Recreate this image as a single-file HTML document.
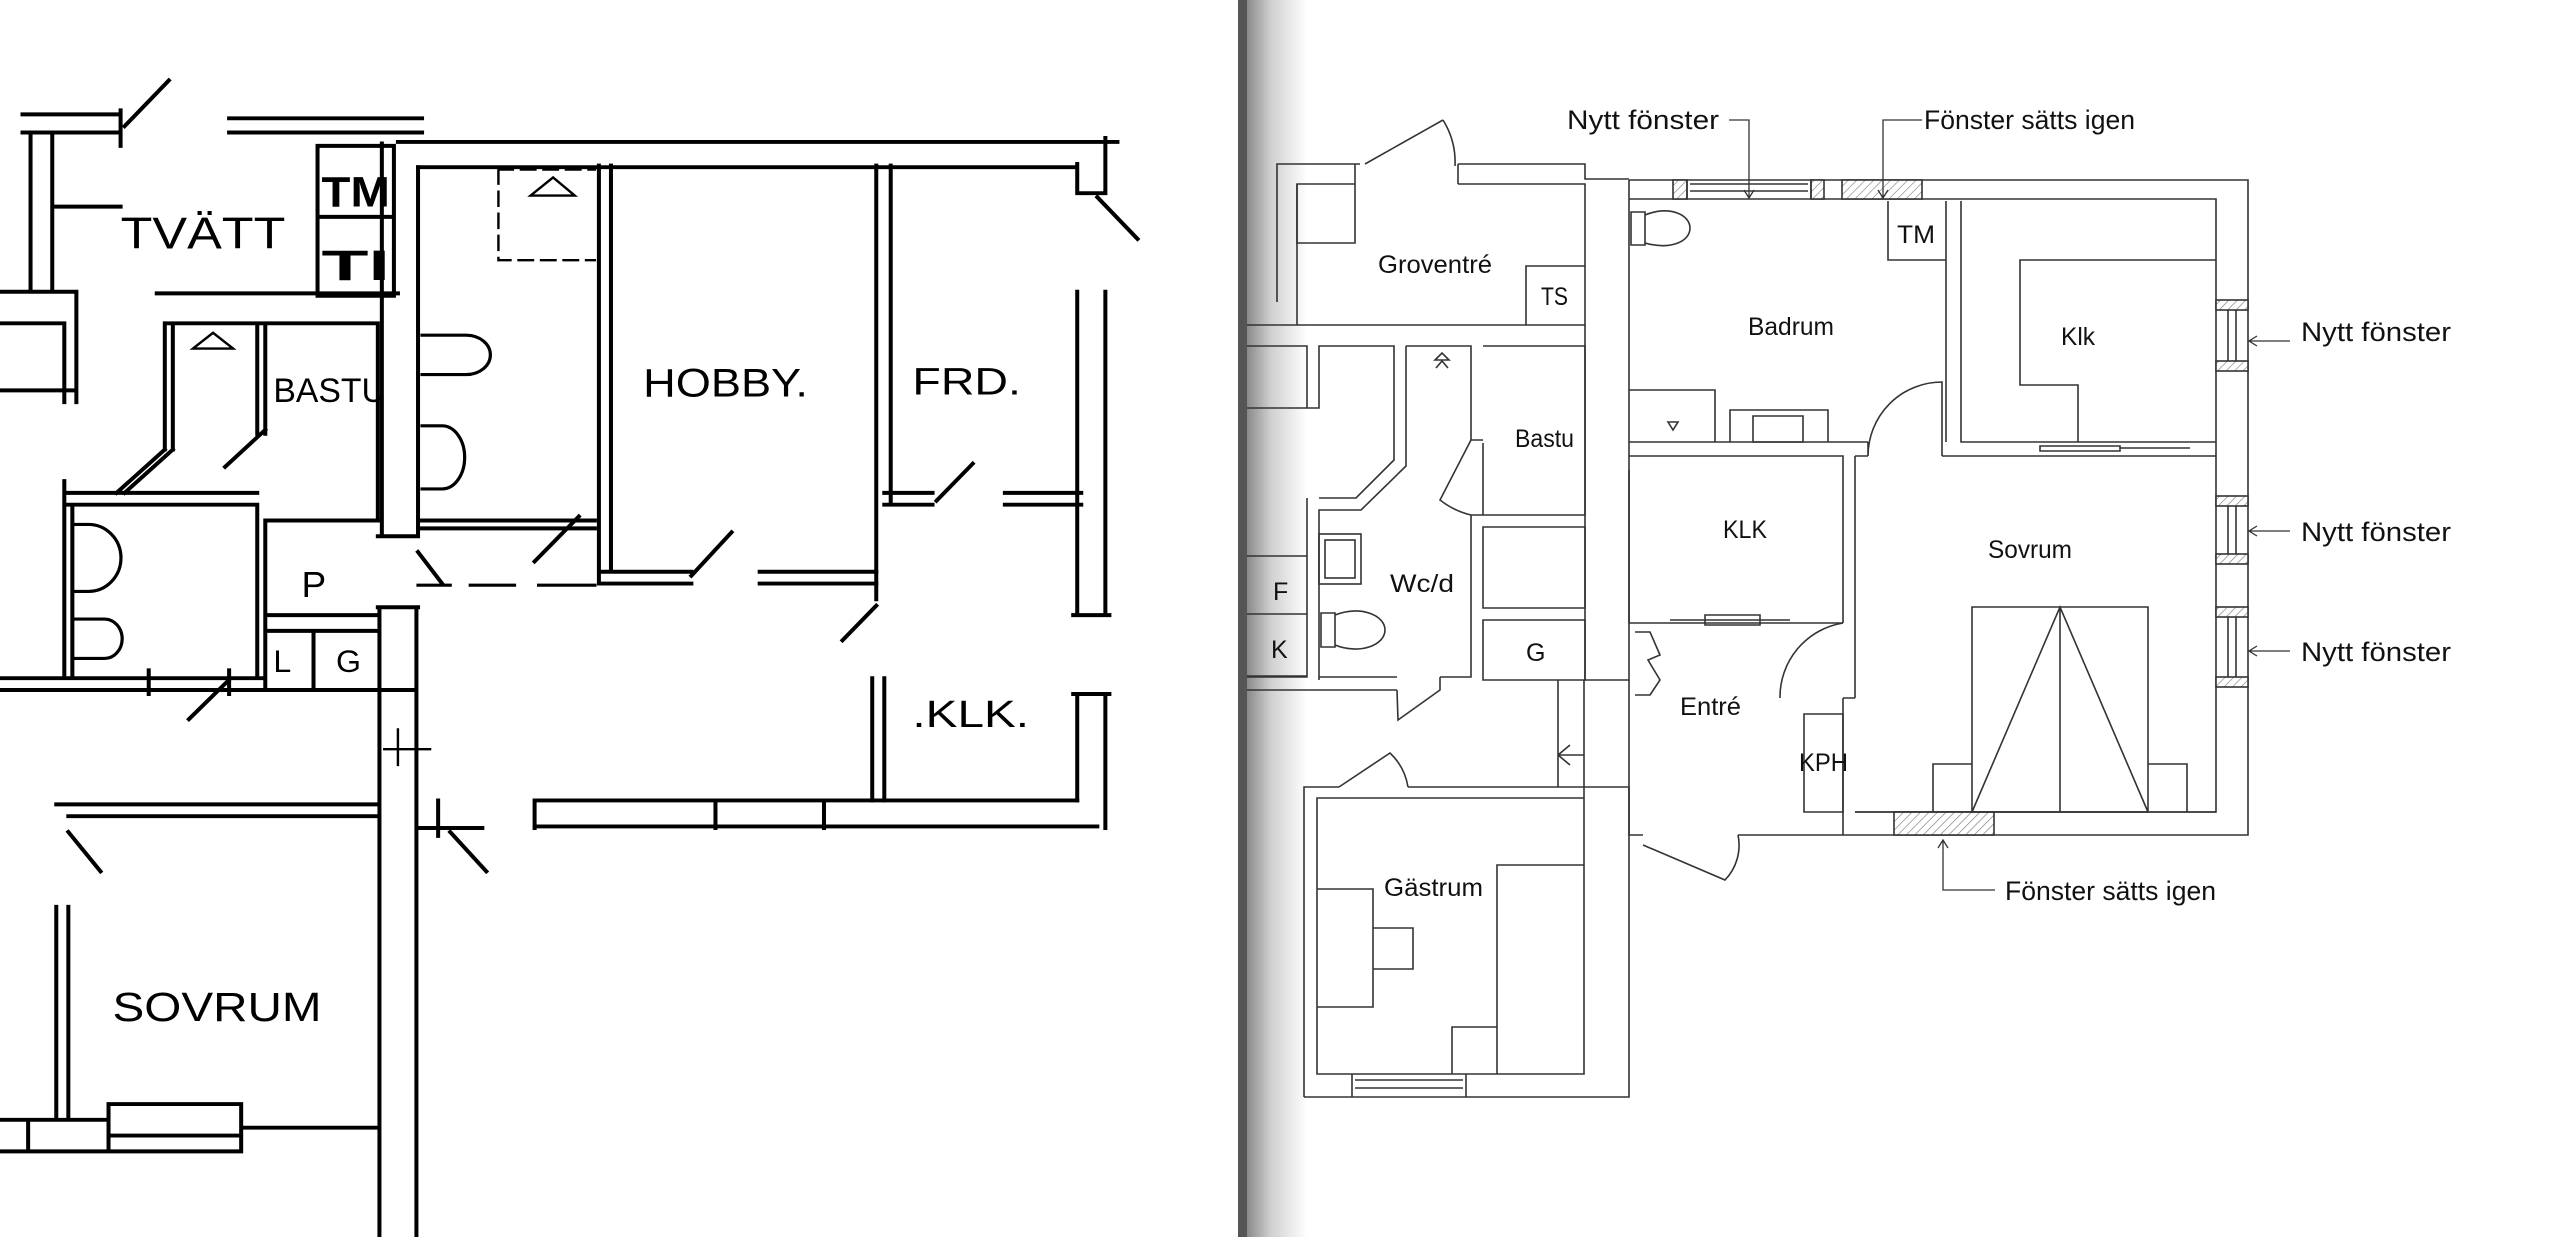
<!DOCTYPE html>
<html><head><meta charset="utf-8"><style>
html,body{margin:0;padding:0;background:#fff;width:2560px;height:1237px;overflow:hidden}
svg{display:block}
text{font-family:"Liberation Sans",sans-serif}
</style></head><body>
<svg width="2560" height="1237" viewBox="0 0 2560 1237" xmlns="http://www.w3.org/2000/svg">
<defs>
<linearGradient id="sh" x1="0" x2="1" y1="0" y2="0">
<stop offset="0" stop-color="#8a8a8a"/><stop offset="0.4" stop-color="#d0d0d0"/><stop offset="1" stop-color="#fff"/>
</linearGradient>
<pattern id="ht" width="6" height="6" patternUnits="userSpaceOnUse" patternTransform="rotate(45)">
<rect width="6" height="6" fill="#fff"/><line x1="0" y1="0" x2="0" y2="6" stroke="#777" stroke-width="1.2"/></pattern>
</defs>
<rect x="0" y="0" width="2560" height="1237" fill="#fff"/>
<rect x="1247" y="0" width="60" height="1237" fill="url(#sh)"/>
<rect x="1238" y="0" width="9" height="1237" fill="#555"/>

<g transform="scale(0.8039,0.7886)" stroke="#000" stroke-width="5" fill="none" stroke-linecap="square">
<path d="M28,145H150M28,168H150M150,140V185M285,150H525M285,168H525M155,160L210,102"/>
<path d="M495,180H1390M520,212H1340M1340,208V245H1375V175M1365,250L1415,303"/>
<path d="M1340,370V780M1375,370V780M1340,880V1015M1375,880V1050M1335,780H1380M1335,880H1380"/>
<path d="M665,1015H1340M665,1048H1365M665,1015V1050M890,1015V1050M1025,1015V1050"/>
<path d="M745,210V740M760,210V725M750,740H860M750,725H860M945,725H1090M945,740H1090M860,730L910,675"/>
<path d="M1090,210V760M1108,210V640M1100,625H1160M1100,640H1160M1165,635L1210,588M1250,625H1345M1250,640H1345"/>
<path d="M1085,860V1015M1100,860V1015M1048,812L1090,768"/>
<path d="M475,182V680M520,212V680M470,680H520M520,660H740M520,670H740M665,712L720,655M520,700L550,740"/>
<path d="M520,742H560M585,742H640M670,742H740" stroke-width="4"/>
<path d="M472,770V1568M518,770V1568M470,770H520M472,875H518"/>
<path d="M70,1020H470M85,1035H470M520,1050H600M85,1055L125,1105M560,1055L605,1105M545,1015V1060"/>
<path d="M70,1150V1420M85,1150V1420M0,1420H135M0,1460H300M135,1400H300M135,1440H300M135,1400V1460M300,1400V1460M300,1430H470M35,1420V1460"/>
<path d="M38,170V365M65,170V365M65,262H150M0,370H95M0,410H80M0,495H95M80,410V510M95,370V510"/>
<path d="M395,185H490V375H395ZM395,275H490"/>
<path d="M195,372H495M205,410H470M205,410V570M215,410V570M205,570L145,625M215,570L155,625M320,410V550M330,410V550M280,592L330,545M470,410V660"/>
<path d="M85,625H320M85,640H320M80,610V860M90,640V860M320,640V860M330,660V870M330,660H470M330,780H470M330,800H470M390,800V870M0,860H330M0,875H470M235,912L285,862M185,850V880M285,850V880"/>
<path d="M525,425H580A30,25 0 0 1 580,475H525M525,540H550A28,40 0 0 1 550,620H525M90,665H110A40,42 0 0 1 110,750H90M90,785H130A22,25 0 0 1 130,835H90" stroke-width="4"/>
<path d="M620,215V330H740M620,215H740" stroke-width="3" stroke-dasharray="18,10"/>
<path d="M660,248H715L688,225Z" stroke-width="3"/>
<path d="M240,442H290L265,422Z" stroke-width="3"/>
<path d="M478,950H535M495,925V970" stroke-width="3"/>
</g>
<g transform="scale(0.8039,0.7886)" fill="#000" stroke="none">
<text x="150" y="315" font-size="56" textLength="205" lengthAdjust="spacingAndGlyphs">TVÄTT</text>
<text x="400" y="262" font-size="54" textLength="85" lengthAdjust="spacingAndGlyphs" font-weight="bold">TM</text>
<text x="400" y="355" font-size="54" textLength="85" lengthAdjust="spacingAndGlyphs" font-weight="bold">TI</text>
<text x="340" y="510" font-size="44" textLength="140" lengthAdjust="spacingAndGlyphs">BASTU</text>
<text x="800" y="503" font-size="50" textLength="205" lengthAdjust="spacingAndGlyphs">HOBBY.</text>
<text x="1135" y="500" font-size="48" textLength="135" lengthAdjust="spacingAndGlyphs">FRD.</text>
<text x="1135" y="922" font-size="48" textLength="145" lengthAdjust="spacingAndGlyphs">.KLK.</text>
<text x="140" y="1295" font-size="52" textLength="260" lengthAdjust="spacingAndGlyphs">SOVRUM</text>
<text x="375" y="757" font-size="46">P</text>
<text x="340" y="852" font-size="40">L</text>
<text x="418" y="852" font-size="40">G</text>
</g>

<g stroke="#333" stroke-width="1.6" fill="none">
<path d="M1629,180H2248V835H1738M1629,199H2216V812H1855M1629,180V199"/>
<rect x="1673" y="180" width="14" height="19" fill="url(#ht)"/>
<rect x="1811" y="180" width="13" height="19" fill="url(#ht)"/>
<path d="M1687,180V199M1811,180V199M1690,184H1808M1690,191H1808"/>
<rect x="1842" y="180" width="80" height="19" fill="url(#ht)"/>
<g>
<rect x="2216" y="300" width="32" height="10" fill="url(#ht)"/><rect x="2216" y="361" width="32" height="10" fill="url(#ht)"/>
<path d="M2228,310V361M2236,310V361"/>
<rect x="2216" y="496" width="32" height="10" fill="url(#ht)"/><rect x="2216" y="554" width="32" height="10" fill="url(#ht)"/>
<path d="M2228,506V554M2236,506V554"/>
<rect x="2216" y="607" width="32" height="10" fill="url(#ht)"/><rect x="2216" y="677" width="32" height="10" fill="url(#ht)"/>
<path d="M2228,617V677M2236,617V677"/>
</g>
<rect x="1894" y="812" width="100" height="23" fill="url(#ht)"/>
<path d="M1629,179H1585V164H1458M1360,164H1277V302M1297,325V184H1355M1458,184H1585V325H1297M1355,184V164M1458,184V164"/>
<path d="M1297,184V243H1355V184M1526,325V266H1585"/>
<path d="M1365,164L1443,120M1443,120A80,80 0 0 1 1455,166"/>
<path d="M1629,199V680H1585V346M1585,325V346"/>
<path d="M1247,325H1297M1247,346H1307V408H1319V346H1394V460L1356,498H1319M1247,408H1307"/>
<path d="M1406,346H1471V440M1406,346V466L1361,510H1319V677H1397M1307,498V677H1247M1319,677V680"/>
<path d="M1247,556H1307M1247,614H1307M1247,676H1307M1247,690H1397"/>
<path d="M1483,346H1585V515H1483V443M1471,440H1483M1471,515H1483M1471,515V677H1440M1483,527H1585V608H1483ZM1483,620H1585V680H1483Z"/>
<path d="M1440,677V690L1398,720L1397,690M1471,440L1440,500A80,80 0 0 0 1471,515"/>
<rect x="1319" y="534" width="42" height="50"/><rect x="1325" y="540" width="30" height="38"/>
<path d="M1321,613H1335V647H1321ZM1335,615C1360,605 1385,615 1385,630C1385,645 1360,655 1335,645"/>
<path d="M1435,360L1442,353L1449,360ZM1436,368L1442,361L1448,368"/>
<path d="M1558,680V787M1584,680V787M1558,755H1584M1558,755L1570,745M1558,755L1570,765"/>
<path d="M1629,787H1584V798H1317V1074H1584V798M1304,1097V787H1339M1408,787H1584M1629,787V1097H1304"/>
<path d="M1339,787L1390,753A60,60 0 0 1 1408,787"/>
<path d="M1497,1074V865H1584M1317,889H1373V1007H1317M1373,928H1413V969H1373M1452,1074V1027H1497"/>
<path d="M1352,1074V1097M1466,1074V1097M1355,1080H1463M1355,1088H1463"/>
<path d="M1888,201V260H1946V201M1946,201V442M1961,201V442H2216M1629,442H1868M1629,456H1843V623M1855,456H1868M1942,456H2216"/>
<path d="M1868,456V442M1942,442V456M1868,456A74,74 0 0 1 1942,382V442"/>
<path d="M1629,390H1715V442M1730,442V410H1828V442M1753,416H1803V442H1753Z"/>
<path d="M1668,422L1673,430L1678,422Z"/>
<path d="M1631,212H1645V245H1631ZM1645,215C1670,205 1690,215 1690,228C1690,242 1670,250 1645,243"/>
<path d="M2216,260H2020V385H2078V442"/>
<path d="M2040,446H2120V451H2040ZM2120,448H2190"/>
<path d="M1629,623H1843M1629,623V470M1855,456V698M1843,698V835M1855,698H1843"/>
<path d="M1635,632H1650L1660,655L1648,660L1660,680L1650,695H1635"/>
<path d="M1670,620H1790M1705,615H1760V625H1705Z"/>
<path d="M1843,623A75,75 0 0 0 1780,698"/>
<path d="M1629,680V835H1643M1643,845L1725,880A50,50 0 0 0 1738,835"/>
<path d="M1804,714H1843V812H1804Z"/>
<path d="M1972,607H2148V812H1972ZM2060,607V812M1972,812L2060,607L2148,812M1933,812V764H1972M2148,764H2187V812"/>
<path d="M1855,812H2216"/>
</g>
<g stroke="#333" stroke-width="1.3" fill="none">
<path d="M1729,120H1749V197M1744,190L1749,198L1754,190"/>
<path d="M1922,120H1883V197M1878,190L1883,198L1888,190"/>
<path d="M2290,341H2250M2257,336L2249,341L2257,346"/>
<path d="M2290,531H2250M2257,526L2249,531L2257,536"/>
<path d="M2290,651H2250M2257,646L2249,651L2257,656"/>
<path d="M1943,841V890H1995M1938,848L1943,840L1948,848"/>
</g>
<g fill="#111" font-size="27">
<text x="1567" y="129" textLength="152" lengthAdjust="spacingAndGlyphs">Nytt fönster</text>
<text x="1924" y="129" textLength="211" lengthAdjust="spacingAndGlyphs">Fönster sätts igen</text>
<text x="2301" y="341" textLength="150" lengthAdjust="spacingAndGlyphs">Nytt fönster</text>
<text x="2301" y="541" textLength="150" lengthAdjust="spacingAndGlyphs">Nytt fönster</text>
<text x="2301" y="661" textLength="150" lengthAdjust="spacingAndGlyphs">Nytt fönster</text>
<text x="2005" y="900" textLength="211" lengthAdjust="spacingAndGlyphs">Fönster sätts igen</text>
</g>
<g fill="#111" font-size="25">
<text x="1378" y="273" textLength="114" lengthAdjust="spacingAndGlyphs">Groventré</text>
<text x="1541" y="305" textLength="27" lengthAdjust="spacingAndGlyphs">TS</text>
<text x="1897" y="243" textLength="38" lengthAdjust="spacingAndGlyphs">TM</text>
<text x="1748" y="335" textLength="86" lengthAdjust="spacingAndGlyphs">Badrum</text>
<text x="2061" y="345" textLength="34" lengthAdjust="spacingAndGlyphs">Klk</text>
<text x="1515" y="447" textLength="59" lengthAdjust="spacingAndGlyphs">Bastu</text>
<text x="1723" y="538" textLength="44" lengthAdjust="spacingAndGlyphs">KLK</text>
<text x="1988" y="558" textLength="84" lengthAdjust="spacingAndGlyphs">Sovrum</text>
<text x="1390" y="592" textLength="64" lengthAdjust="spacingAndGlyphs">Wc/d</text>
<text x="1273" y="600">F</text>
<text x="1271" y="658">K</text>
<text x="1526" y="661">G</text>
<text x="1680" y="715" textLength="61" lengthAdjust="spacingAndGlyphs">Entré</text>
<text x="1799" y="771" textLength="49" lengthAdjust="spacingAndGlyphs">KPH</text>
<text x="1384" y="896" textLength="99" lengthAdjust="spacingAndGlyphs">Gästrum</text>
</g>
</svg>
</body></html>
